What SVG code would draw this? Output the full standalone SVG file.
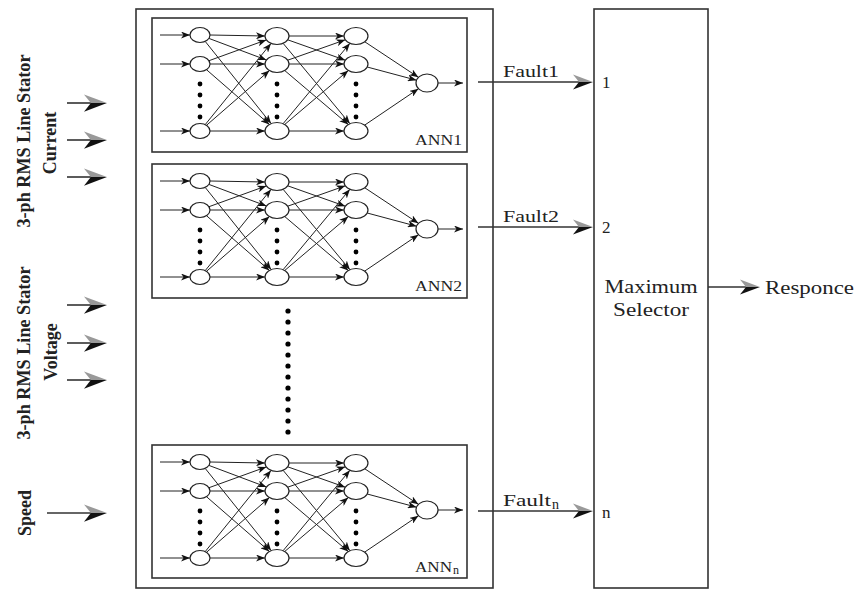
<svg xmlns="http://www.w3.org/2000/svg" width="857" height="590" viewBox="0 0 857 590">
<style>
.box{fill:none;stroke:#333;stroke-width:1.6}
.nd{fill:#fff;stroke:#222;stroke-width:1.2}
.ln{fill:none;stroke:#222;stroke-width:1;marker-end:url(#ah)}
.dot{fill:#000}
.t{font-family:"Liberation Serif","Times New Roman",serif;fill:#222}
.b{font-weight:bold}
.cl{fill:none;stroke:#333;stroke-width:1.6}
</style>
<defs>
<marker id="ah" markerUnits="userSpaceOnUse" markerWidth="9" markerHeight="7" refX="9" refY="3.5" orient="auto"><path d="M0,0 L9,3.5 L0,7 L2.5,3.5 Z" fill="#111"/></marker>
<g id="bh"><path d="M0,0 L-20,-7.5 L-14,0 Z" fill="#999"/><path d="M0,0 L-14,0 L-20,7.5 Z" fill="#111"/></g>
<g id="net">
<line class="ln" x1="160" y1="35" x2="190" y2="35"/>
<line class="ln" x1="160" y1="64" x2="190" y2="64"/>
<line class="ln" x1="160" y1="131" x2="190" y2="131"/>
<line class="ln" x1="210" y1="35" x2="265" y2="36"/>
<line class="ln" x1="208.9" y1="38.4" x2="266.4" y2="60"/>
<line class="ln" x1="205.2" y1="41.4" x2="271.1" y2="123.6"/>
<line class="ln" x1="209" y1="60.7" x2="266.3" y2="39.9"/>
<line class="ln" x1="210" y1="64" x2="265" y2="64"/>
<line class="ln" x1="206.5" y1="69.7" x2="269.4" y2="124.4"/>
<line class="ln" x1="205.2" y1="124.6" x2="271" y2="43.4"/>
<line class="ln" x1="206.5" y1="125.3" x2="269.4" y2="70.6"/>
<line class="ln" x1="210" y1="131" x2="265" y2="131"/>
<line class="ln" x1="289" y1="36" x2="344" y2="36"/>
<line class="ln" x1="287.7" y1="39.8" x2="345.3" y2="60.2"/>
<line class="ln" x1="283.1" y1="43.3" x2="349.9" y2="123.7"/>
<line class="ln" x1="287.7" y1="60.2" x2="345.3" y2="39.8"/>
<line class="ln" x1="289" y1="64" x2="344" y2="64"/>
<line class="ln" x1="284.7" y1="70.5" x2="348.3" y2="124.5"/>
<line class="ln" x1="283.1" y1="123.7" x2="349.9" y2="43.3"/>
<line class="ln" x1="284.7" y1="124.5" x2="348.3" y2="70.5"/>
<line class="ln" x1="289" y1="131" x2="344" y2="131"/>
<line class="ln" x1="364.8" y1="41.8" x2="418.4" y2="77.3"/>
<line class="ln" x1="367.2" y1="67" x2="416.5" y2="80.2"/>
<line class="ln" x1="364.7" y1="125.1" x2="418.5" y2="88.7"/>
<line class="ln" x1="438" y1="83" x2="463" y2="83"/>
<ellipse class="nd" cx="200" cy="35" rx="10" ry="7.5"/>
<ellipse class="nd" cx="200" cy="64" rx="10" ry="7.5"/>
<ellipse class="nd" cx="200" cy="131" rx="10" ry="7.5"/>
<ellipse class="nd" cx="277" cy="36" rx="12" ry="8.5"/>
<ellipse class="nd" cx="277" cy="64" rx="12" ry="8.5"/>
<ellipse class="nd" cx="277" cy="131" rx="12" ry="8.5"/>
<ellipse class="nd" cx="356" cy="36" rx="12" ry="8.5"/>
<ellipse class="nd" cx="356" cy="64" rx="12" ry="8.5"/>
<ellipse class="nd" cx="356" cy="131" rx="12" ry="8.5"/>
<ellipse class="nd" cx="427" cy="83" rx="11" ry="9"/>
<g class="dot">
<circle cx="200" cy="84" r="2.4"/><circle cx="200" cy="95" r="2.4"/><circle cx="200" cy="106" r="2.4"/><circle cx="200" cy="117" r="2.4"/>
<circle cx="277" cy="84" r="2.4"/><circle cx="277" cy="95" r="2.4"/><circle cx="277" cy="106" r="2.4"/><circle cx="277" cy="117" r="2.4"/>
<circle cx="356" cy="84" r="2.4"/><circle cx="356" cy="95" r="2.4"/><circle cx="356" cy="106" r="2.4"/><circle cx="356" cy="117" r="2.4"/>
</g>
</g>
</defs>

<g id="ann-bank">
<rect class="box" x="136" y="9" width="357" height="579"/>
<g class="dot">
<circle cx="288" cy="311" r="2.6"/><circle cx="288" cy="322" r="2.6"/><circle cx="288" cy="333" r="2.6"/><circle cx="288" cy="344" r="2.6"/>
<circle cx="288" cy="355" r="2.6"/><circle cx="288" cy="366" r="2.6"/><circle cx="288" cy="377" r="2.6"/><circle cx="288" cy="388" r="2.6"/>
<circle cx="288" cy="399" r="2.6"/><circle cx="288" cy="410" r="2.6"/><circle cx="288" cy="421" r="2.6"/><circle cx="288" cy="432" r="2.6"/>
</g>
</g>

<g id="ann1">
<rect class="box" x="152" y="18" width="315" height="134"/>
<use href="#net"/>
<text class="t" x="462" y="145" font-size="14" text-anchor="end" textLength="47" lengthAdjust="spacingAndGlyphs">ANN1</text>
</g>
<g id="ann2" transform="translate(0,146)">
<rect class="box" x="152" y="18" width="315" height="134"/>
<use href="#net"/>
<text class="t" x="462" y="145" font-size="14" text-anchor="end" textLength="47" lengthAdjust="spacingAndGlyphs">ANN2</text>
</g>
<g id="annn" transform="translate(0,427)">
<rect class="box" x="152" y="18" width="315" height="133"/>
<use href="#net"/>
<text class="t" x="415" y="145" font-size="14" textLength="37" lengthAdjust="spacingAndGlyphs">ANN</text>
<text class="t" x="453" y="147" font-size="12">n</text>
</g>

<g id="max-selector">
<rect class="box" x="594" y="9" width="114" height="579"/>
<text class="t" x="651" y="293" font-size="19" text-anchor="middle" textLength="93" lengthAdjust="spacingAndGlyphs">Maximum</text>
<text class="t" x="651" y="316" font-size="19" text-anchor="middle" textLength="76" lengthAdjust="spacingAndGlyphs">Selector</text>
<text class="t" x="602" y="88" font-size="17">1</text>
<text class="t" x="602" y="233" font-size="17">2</text>
<text class="t" x="602" y="518" font-size="17">n</text>
</g>

<g id="inputs">
<text class="t b" transform="translate(30,141) rotate(-90)" font-size="18" text-anchor="middle" textLength="173" lengthAdjust="spacingAndGlyphs">3-ph RMS Line Stator</text>
<text class="t b" transform="translate(56,143) rotate(-90)" font-size="18" text-anchor="middle">Current</text>
<text class="t b" transform="translate(30,353) rotate(-90)" font-size="18" text-anchor="middle" textLength="173" lengthAdjust="spacingAndGlyphs">3-ph RMS Line Stator</text>
<text class="t b" transform="translate(57,352) rotate(-90)" font-size="18" text-anchor="middle">Voltage</text>
<text class="t b" transform="translate(31,513) rotate(-90)" font-size="18" text-anchor="middle">Speed</text>
</g>

<g id="response-label">
<text class="t" x="765" y="294" font-size="19" textLength="89" lengthAdjust="spacingAndGlyphs">Responce</text>
</g>

<g id="connectors">
<line class="cl" x1="67" y1="103" x2="96" y2="103"/><use href="#bh" transform="translate(107,103) scale(1.15)"/>
<line class="cl" x1="67" y1="140" x2="96" y2="140"/><use href="#bh" transform="translate(107,140) scale(1.15)"/>
<line class="cl" x1="67" y1="177" x2="96" y2="177"/><use href="#bh" transform="translate(107,177) scale(1.15)"/>
<line class="cl" x1="67" y1="305" x2="96" y2="305"/><use href="#bh" transform="translate(107,305) scale(1.15)"/>
<line class="cl" x1="67" y1="343" x2="96" y2="343"/><use href="#bh" transform="translate(107,343) scale(1.15)"/>
<line class="cl" x1="67" y1="380" x2="96" y2="380"/><use href="#bh" transform="translate(107,380) scale(1.15)"/>
<line class="cl" x1="47" y1="513" x2="96" y2="513"/><use href="#bh" transform="translate(107,513) scale(1.15)"/>
<line class="cl" x1="478" y1="82" x2="582" y2="82"/><use href="#bh" transform="translate(593,82)"/>
<line class="cl" x1="478" y1="227" x2="582" y2="227"/><use href="#bh" transform="translate(593,227)"/>
<line class="cl" x1="478" y1="511" x2="582" y2="511"/><use href="#bh" transform="translate(593,511)"/>
<line class="cl" x1="708" y1="287" x2="750" y2="287"/><use href="#bh" transform="translate(760,287)"/>
<text class="t" x="503" y="77" font-size="16" textLength="56" lengthAdjust="spacingAndGlyphs">Fault1</text>
<text class="t" x="503" y="222" font-size="16" textLength="56" lengthAdjust="spacingAndGlyphs">Fault2</text>
<text class="t" x="503" y="506" font-size="16" textLength="48" lengthAdjust="spacingAndGlyphs">Fault</text>
<text class="t" x="552" y="509" font-size="14">n</text>
</g>
</svg>
